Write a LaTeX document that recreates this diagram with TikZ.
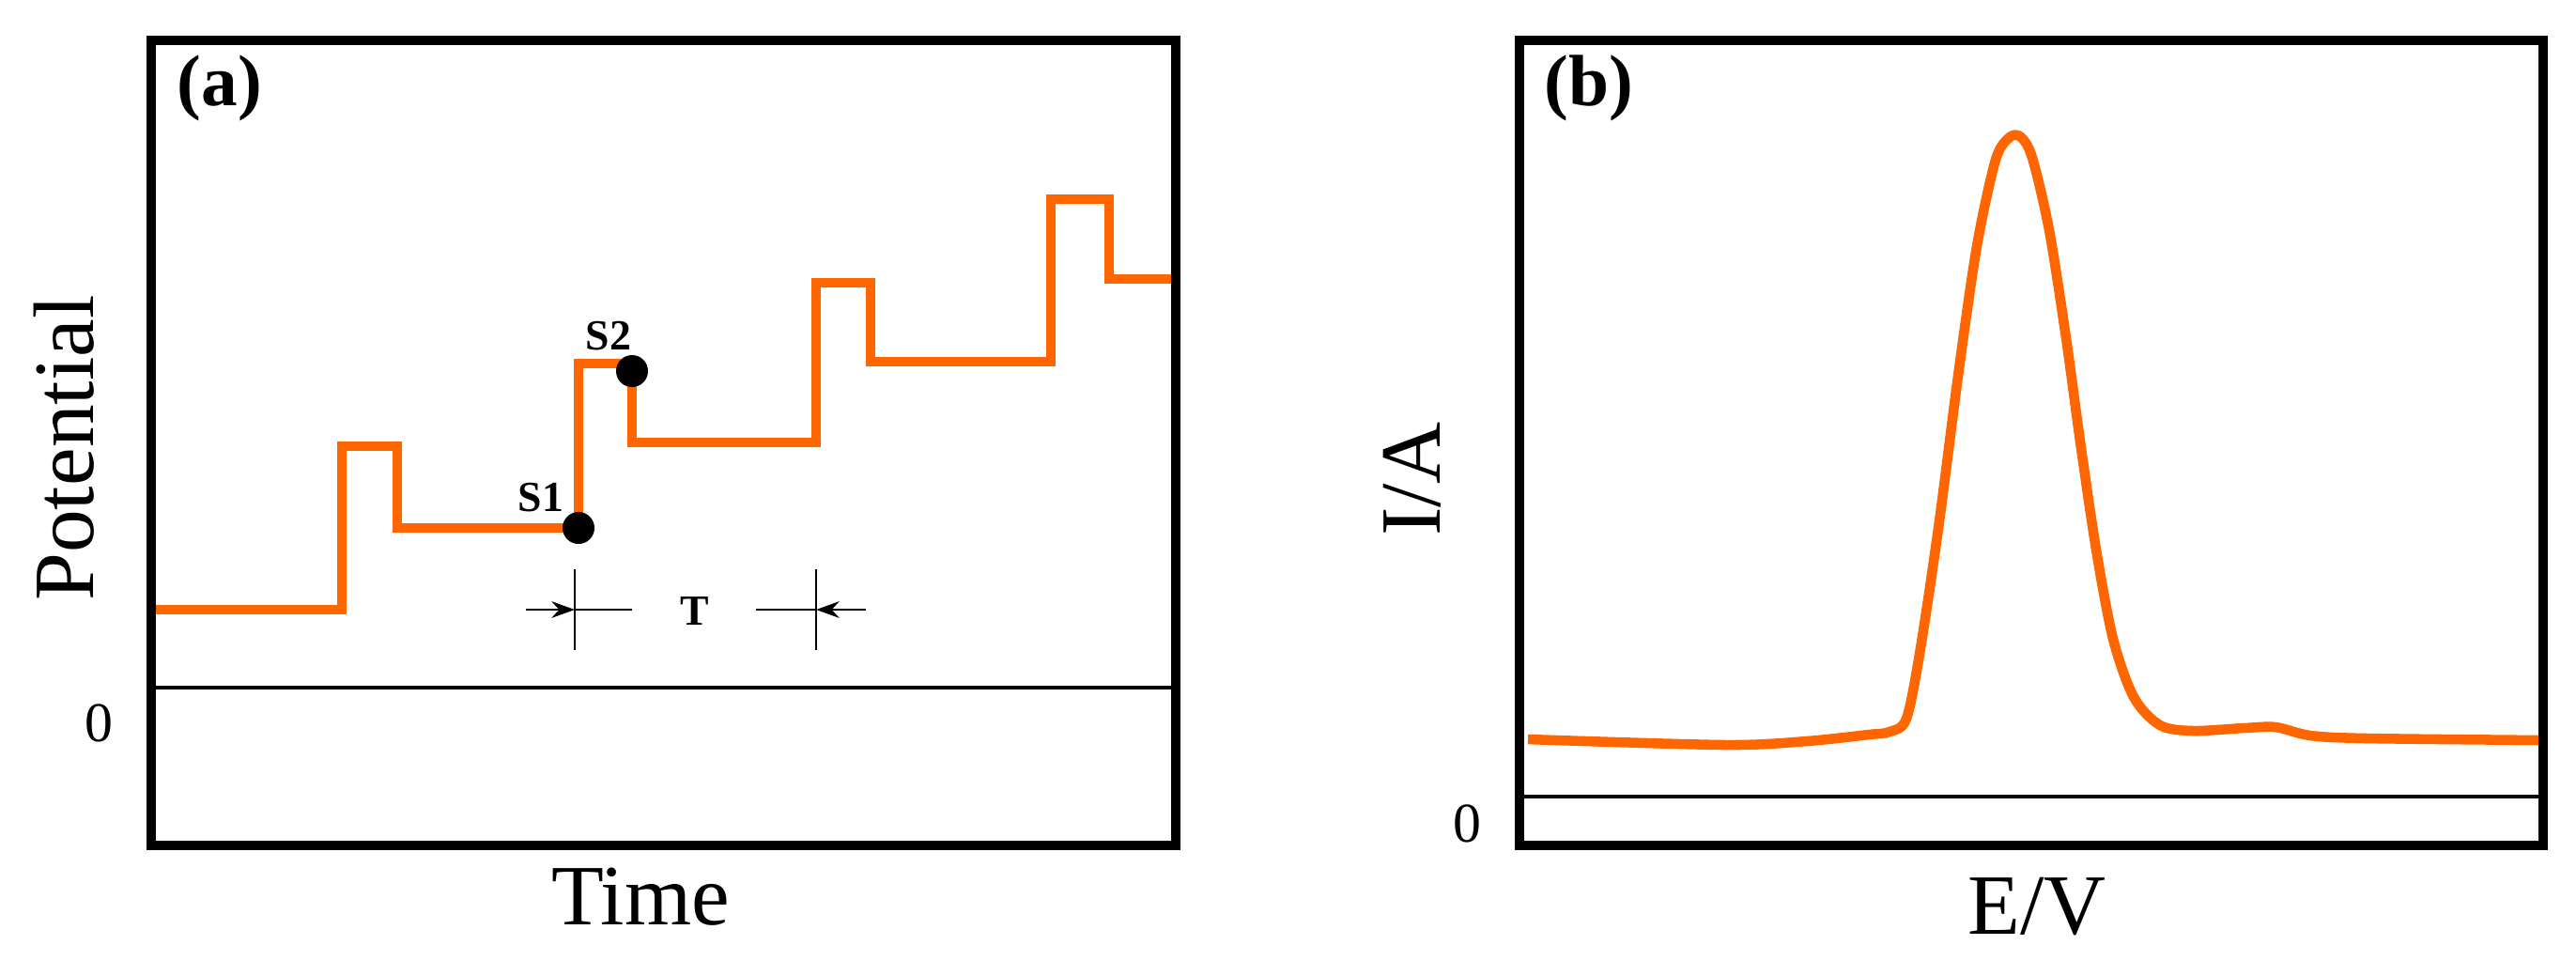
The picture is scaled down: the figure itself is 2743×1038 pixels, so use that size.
\documentclass[tikz,border=0pt]{standalone}
\usepackage{fontspec}
\setmainfont{Liberation Serif}
\usetikzlibrary{arrows.meta}
\definecolor{curve}{RGB}{255,102,0}
\begin{document}
\begin{tikzpicture}[x=0.01cm,y=-0.01cm,
  frame/.style={line width=3pt},
  zero/.style={line width=0.9pt},
  trace/.style={curve,line width=3pt,line join=round},
  big/.style={font=\fontsize{26}{30}\selectfont},
  small/.style={font=\fontsize{17}{20}\selectfont},
  panel/.style={font=\fontsize{22}{26}\selectfont\bfseries},
  lbl/.style={font=\fontsize{13}{15}\selectfont\bfseries},
  dot/.style={circle,fill=black,inner sep=0pt,minimum size=0.34cm},
  tick/.style={line width=0.8pt},
  arr/.style={line width=0.8pt,-{Stealth[length=7pt,width=5pt]}}]
\useasboundingbox (0,0) rectangle (2743,1038);
% panel a
\draw[zero] (161,732) coordinate (za) -- (1252,732) coordinate (zb);
\draw[trace,line join=miter] (161,649) -- (364,649) -- (364,475) -- (423,475) -- (423,562) -- (616,562)
  -- (616,387) -- (673,387) -- (673,471) -- (869,471) -- (869,301) -- (927,301)
  -- (927,385) -- (1119,385) -- (1119,212) -- (1181,212) -- (1181,297) -- (1252,297);
\node[dot] (s1) at (616,562) {};
\node[dot] (s2) at (673,395) {};
\node[lbl] (s1l) at (576,530) {S1};
\node[lbl] (s2l) at (648,358) {S2};
\coordinate (t1a) at (612,606); \coordinate (t1b) at (612,692);
\coordinate (t2a) at (869,606); \coordinate (t2b) at (869,692);
\draw[tick] (t1a) -- (t1b);
\draw[tick] (t2a) -- (t2b);
\coordinate (l1) at (560,649); \coordinate (l1e) at (612,649); \coordinate (l1r) at (673,649);
\coordinate (l2) at (922,649); \coordinate (l2e) at (869,649); \coordinate (l2l) at (805,649);
\draw[arr] (l1) -- (l1e);
\draw[tick] (l1e) -- (l1r);
\draw[arr] (l2) -- (l2e);
\draw[tick] (l2e) -- (l2l);
\node[lbl] (T) at (740,651) {T};
\draw[frame] (161,43) rectangle (1252,900);
\node[panel] (pa) at (234,94) {(a)};
\node[small] (z0a) at (105,770) {0};
\node[big,rotate=90] (pot) at (68,477) {Potential};
\node[big] (time) at (682,955) {Time};
% panel b
\draw[zero] (1618,848) -- (2708,848);
\draw[trace] plot[smooth,tension=0.5] coordinates {(1627,787) (1837,793) (1924,789) (1990,782) (2012,779)
  (2030,765) (2045,690) (2065,555) (2085,400) (2105,262) (2125,170) (2140,146) (2152,146)
  (2164,168) (2182,245) (2200,360) (2215,470) (2232,585) (2250,680) (2272,742) (2300,772)
  (2335,778) (2390,775) (2423,774) (2460,783) (2520,786) (2708,788)};
\draw[frame] (1618,43) rectangle (2708,900);
\node[panel] (pb) at (1692,94) {(b)};
\node[small] (z0b) at (1562,877) {0};
\node[big,rotate=90] (ia) at (1504,510) {I/A};
\node[big] (ev) at (2169,965) {E/V};
\end{tikzpicture}
\end{document}
